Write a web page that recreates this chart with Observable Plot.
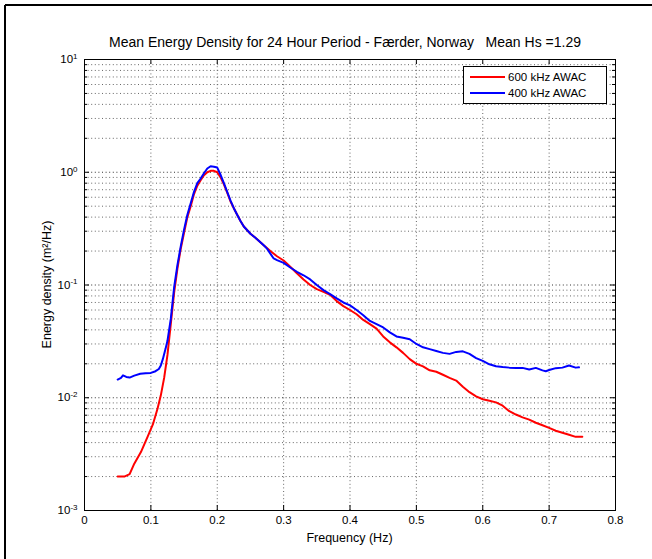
<!DOCTYPE html>
<html>
<head>
<meta charset="utf-8">
<script src="https://cdn.jsdelivr.net/npm/d3@7"></script>
<script src="https://cdn.jsdelivr.net/npm/@observablehq/plot@0.6"></script>
<style>
  html, body { margin: 0; padding: 0; background: #fff; }
  #chart { position: relative; width: 652px; height: 559px; }
  svg { font-family: "Liberation Sans", Arial, sans-serif; }
</style>
</head>
<body>
<div id="chart"></div>
<script>
const title = "Mean Energy Density for 24 Hour Period - Færder, Norway   Mean Hs =1.29";
const xLabel = "Frequency (Hz)";
const yLabel = "Energy density (m²/Hz)";
const seriesNames = ["600 kHz AWAC", "400 kHz AWAC"];
const seriesColors = ["#ff0000", "#0000ff"];
const xTicks = [0, 0.1, 0.2, 0.3, 0.4, 0.5, 0.6, 0.7, 0.8];
const yTicks = [1e-3, 1e-2, 1e-1, 1, 10];

// 600 kHz AWAC
const freq600 = [0.050,0.060,0.068,0.075,0.085,0.095,0.103,0.110,0.115,0.120,0.125,0.130,0.135,0.140,0.145,0.150,0.155,0.160,0.165,0.170,0.175,0.180,0.185,0.190,0.195,0.200,0.205,0.210,0.215,0.220,0.225,0.230,0.235,0.240,0.250,0.260,0.270,0.280,0.290,0.300,0.310,0.320,0.330,0.340,0.350,0.360,0.370,0.380,0.390,0.400,0.410,0.420,0.430,0.440,0.450,0.460,0.470,0.480,0.490,0.500,0.510,0.520,0.530,0.540,0.550,0.560,0.570,0.580,0.590,0.600,0.610,0.620,0.630,0.640,0.650,0.660,0.670,0.680,0.690,0.700,0.710,0.720,0.730,0.740,0.750];
const energy600 = [0.0020,0.0020,0.0021,0.0026,0.0033,0.0045,0.0058,0.0080,0.0105,0.015,0.024,0.045,0.085,0.14,0.21,0.29,0.40,0.50,0.64,0.76,0.85,0.94,1.00,1.03,1.03,1.00,0.90,0.78,0.66,0.55,0.48,0.42,0.37,0.33,0.285,0.255,0.225,0.20,0.18,0.165,0.145,0.127,0.112,0.100,0.092,0.087,0.082,0.072,0.065,0.060,0.055,0.049,0.045,0.041,0.035,0.031,0.028,0.025,0.022,0.020,0.019,0.0175,0.017,0.0160,0.0150,0.0142,0.0125,0.0112,0.0103,0.0097,0.0094,0.0091,0.0085,0.0076,0.0071,0.0067,0.0064,0.0060,0.0057,0.0054,0.0051,0.0049,0.0047,0.0045,0.0045];

// 400 kHz AWAC
const freq400 = [0.050,0.055,0.058,0.063,0.068,0.075,0.084,0.092,0.100,0.107,0.112,0.115,0.118,0.122,0.125,0.130,0.135,0.140,0.145,0.150,0.155,0.160,0.165,0.170,0.175,0.180,0.185,0.190,0.195,0.200,0.205,0.210,0.215,0.220,0.225,0.230,0.235,0.240,0.250,0.260,0.270,0.275,0.280,0.285,0.290,0.300,0.310,0.320,0.330,0.340,0.350,0.360,0.370,0.380,0.390,0.400,0.410,0.420,0.430,0.440,0.450,0.460,0.470,0.480,0.490,0.500,0.510,0.520,0.530,0.540,0.550,0.560,0.570,0.580,0.590,0.600,0.610,0.620,0.630,0.640,0.650,0.660,0.670,0.680,0.690,0.695,0.700,0.710,0.720,0.730,0.740,0.745];
const energy400 = [0.0145,0.0150,0.0158,0.0153,0.0151,0.0157,0.0163,0.0165,0.0166,0.0172,0.0180,0.0193,0.022,0.027,0.032,0.050,0.095,0.15,0.22,0.31,0.42,0.53,0.67,0.80,0.88,0.98,1.08,1.13,1.12,1.10,0.95,0.80,0.67,0.56,0.48,0.42,0.37,0.33,0.285,0.255,0.225,0.21,0.19,0.172,0.166,0.157,0.143,0.131,0.122,0.112,0.100,0.090,0.083,0.076,0.070,0.066,0.060,0.054,0.048,0.045,0.042,0.038,0.035,0.034,0.033,0.030,0.028,0.027,0.026,0.025,0.0245,0.0255,0.0258,0.0245,0.0225,0.0212,0.0198,0.019,0.0187,0.0185,0.0184,0.0184,0.0178,0.0184,0.0175,0.0172,0.0176,0.0183,0.0185,0.0193,0.0185,0.0186];

const data600 = freq600.map((f, i) => ({f, e: energy600[i], s: seriesNames[0]}));
const data400 = freq400.map((f, i) => ({f, e: energy400[i], s: seriesNames[1]}));

// log grid values (2..9 x 10^k)
const yMinor = [];
for (let k = -3; k < 1; k++) for (let m = 2; m <= 9; m++) yMinor.push(m * Math.pow(10, k));
const xInner = xTicks.slice(1, -1);

const W = 652, H = 559, mL = 84, mR = 37, mT = 59, mB = 49;
const pw = W - mL - mR, ph = H - mT - mB;
const grid = {stroke: "#666", strokeDasharray: "1,2.6", strokeWidth: 1};

const plot = Plot.plot({
  width: W, height: H,
  marginLeft: mL, marginRight: mR, marginTop: mT, marginBottom: mB,
  style: {fontFamily: "Liberation Sans, Arial, sans-serif", fontSize: "11px", color: "#000", background: "#fff"},
  x: {domain: [0, 0.8]},
  y: {type: "log", domain: [1e-3, 10]},
  marks: [
    Plot.ruleX(xInner, grid),
    Plot.ruleY(yMinor, grid),
    Plot.ruleY(yTicks.slice(1, -1), {...grid, stroke: "#333"}),
    // inward ticks
    Plot.ruleX(xTicks, {insetTop: ph - 5, stroke: "#000"}),
    Plot.ruleX(xTicks, {insetBottom: ph - 5, stroke: "#000"}),
    Plot.ruleY(yTicks, {insetRight: pw - 5, stroke: "#000"}),
    Plot.ruleY(yTicks, {insetLeft: pw - 5, stroke: "#000"}),
    Plot.ruleY(yMinor, {insetRight: pw - 3, stroke: "#000"}),
    Plot.ruleY(yMinor, {insetLeft: pw - 3, stroke: "#000"}),
    Plot.line(data600, {x: "f", y: "e", stroke: seriesColors[0], strokeWidth: 2}),
    Plot.line(data400, {x: "f", y: "e", stroke: seriesColors[1], strokeWidth: 2}),
    Plot.frame({stroke: "#000"}),
    Plot.axisX(xTicks, {tickSize: 0, tickPadding: 5, fontSize: 11.5, label: null,
      tickFormat: d => d === 0 ? "0" : d3.format(".1f")(d)}),
    Plot.axisY(yTicks, {tickSize: 0, tickPadding: 7, fontSize: 11.5, label: null,
      tickFormat: d => "10^" + Math.round(Math.log10(d))}),
  ]
});
document.getElementById("chart").appendChild(plot);

const svg = d3.select(plot);
// superscript exponents
svg.selectAll('g[aria-label="y-axis tick label"] text').each(function() {
  const t = this.textContent;
  const exp = t.split("^")[1];
  const sel = d3.select(this);
  sel.text("10");
  sel.append("tspan").attr("dy", "-0.55em").attr("font-size", "8px").text(exp);
});

// outer figure border (top & left)
svg.append("line").attr("x1", 5).attr("x2", 652).attr("y1", 5).attr("y2", 5).attr("stroke", "#000").attr("stroke-width", 2);
svg.append("line").attr("x1", 5).attr("x2", 5).attr("y1", 5).attr("y2", 559).attr("stroke", "#000").attr("stroke-width", 2);

// title and axis labels
svg.append("text").attr("x", 345).attr("y", 47).attr("text-anchor", "middle")
  .attr("font-size", 14).style("white-space", "pre").attr("fill", "#000").text(title);
svg.append("text").attr("x", mL + pw / 2).attr("y", 542).attr("text-anchor", "middle")
  .attr("font-size", 12.5).attr("fill", "#000").text(xLabel);
svg.append("text").attr("transform", `translate(51,${mT + ph / 2}) rotate(-90)`).attr("text-anchor", "middle")
  .attr("font-size", 12.5).attr("fill", "#000").text(yLabel);

// legend
const lg = svg.append("g").attr("text-anchor", "start");
lg.append("rect").attr("x", 463.5).attr("y", 66.5).attr("width", 143).attr("height", 37)
  .attr("fill", "#fff").attr("stroke", "#000");
seriesNames.forEach((name, i) => {
  const yy = 77 + i * 16;
  lg.append("line").attr("x1", 470).attr("x2", 505).attr("y1", yy).attr("y2", yy)
    .attr("stroke", seriesColors[i]).attr("stroke-width", 2);
  lg.append("text").attr("x", 508).attr("y", yy + 4).attr("text-anchor", "start")
    .attr("font-size", 11.5).attr("fill", "#000").text(name);
});
</script>
</body>
</html>
